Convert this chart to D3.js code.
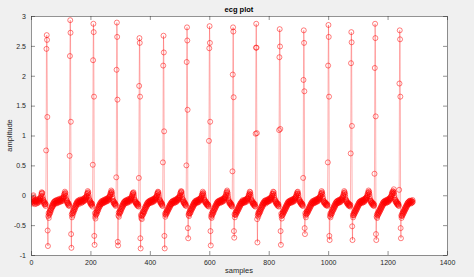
<!DOCTYPE html>
<html>
<head>
<meta charset="utf-8">
<script src="https://cdn.jsdelivr.net/npm/d3@7"></script>
<style>
  html, body { margin: 0; padding: 0; background: #f0f0f0; }
  svg { display: block; }
  text { font-family: "Liberation Sans", Arial, sans-serif; fill: #262626; }
</style>
</head>
<body>
<div id="chart"></div>
<script>
// ---- data ----
const chartTitle = "ecg plot";
const xLabel = "samples";
const yLabel = "amplitude";
const xTicks = [0, 200, 400, 600, 800, 1000, 1200, 1400];
const yTicks = [-1, -0.5, 0, 0.5, 1, 1.5, 2, 2.5, 3];

// QRS spikes: [rise, top3, peak, top2, fall, low1, low2]
const spikes = [
  [0.75, 2.45, 2.68, 2.60, 1.31, -0.59, -0.85],
  [0.66, 2.33, 2.93, 2.72, 1.23, -0.65, -0.88],
  [0.51, 2.26, 2.87, 2.73, 1.65, -0.68, -0.83],
  [0.30, 2.10, 2.89, 2.65, 1.60, -0.78, -0.84],
  [0.29, 1.83, 2.63, 2.55, 1.65, -0.72, -0.89],
  [0.55, 2.17, 2.67, 2.39, 1.07, -0.68, -0.89],
  [0.50, 2.23, 2.81, 2.59, 1.43, -0.55, -0.72],
  [0.91, 2.46, 2.83, 2.55, 1.23, -0.60, -0.84],
  [0.40, 2.02, 2.81, 2.74, 1.64, -0.60, -0.71],
  [1.03, 2.47, 2.87, 2.47, 1.04, -0.40, -0.79],
  [1.09, 2.31, 2.78, 2.49, 1.11, -0.60, -0.83],
  [0.29, 1.93, 2.76, 2.55, 1.74, -0.55, -0.65],
  [0.55, 2.17, 2.85, 2.65, 1.65, -0.68, -0.75],
  [0.70, 2.21, 2.73, 2.56, 1.16, -0.52, -0.75],
  [0.36, 2.13, 2.87, 2.63, 1.32, -0.65, -0.75],
  [0.09, 1.87, 2.76, 2.61, 1.65, -0.55, -0.72]
];

// baseline between spikes (segment k precedes spike k; last one follows the last spike)
const baseline = [
  [-0.12,-0.1,-0.14,-0.08,-0.11,-0.06,-0.02,0.0,-0.05,-0.1,
   -0.13,-0.09,-0.15,-0.11,-0.08,-0.12,-0.1,-0.14,-0.09,-0.07,
   -0.11,-0.13,-0.08,-0.1,-0.06,-0.12,-0.09,-0.07,-0.1,-0.05,
   -0.08,-0.04,-0.06,-0.01,0.02,0.05,0.03,0.04,-0.02,-0.06,
   -0.1,-0.08,-0.13,-0.11,-0.15,-0.12,-0.16,-0.14,-0.18,-0.15],
  [-0.35,-0.3,-0.38,-0.33,-0.28,-0.31,-0.26,-0.29,-0.24,-0.22,
   -0.25,-0.2,-0.18,-0.21,-0.16,-0.19,-0.14,-0.17,-0.12,-0.15,
   -0.11,-0.14,-0.1,-0.13,-0.09,-0.12,-0.1,-0.14,-0.08,-0.12,
   -0.09,-0.13,-0.1,-0.07,-0.11,-0.08,-0.12,-0.09,-0.06,-0.1,
   -0.08,-0.11,-0.07,-0.09,-0.05,-0.08,-0.1,-0.06,-0.09,-0.04,
   -0.07,-0.05,-0.02,0.01,-0.03,0.03,0.06,0.02,0.04,-0.01,
   -0.05,-0.08,-0.11,-0.09,-0.13,-0.12,-0.15,-0.13,-0.17,-0.14,
   -0.16,-0.18],
  [-0.32,-0.37,-0.3,-0.34,-0.27,-0.3,-0.25,-0.28,-0.22,-0.25,
   -0.2,-0.23,-0.17,-0.2,-0.15,-0.18,-0.13,-0.16,-0.11,-0.14,
   -0.12,-0.09,-0.13,-0.1,-0.15,-0.11,-0.08,-0.12,-0.1,-0.07,
   -0.11,-0.09,-0.13,-0.08,-0.1,-0.12,-0.07,-0.09,-0.11,-0.06,
   -0.08,-0.1,-0.05,-0.09,-0.07,-0.04,-0.08,-0.06,-0.03,-0.05,
   -0.01,0.02,-0.02,0.04,0.07,0.03,0.05,0.0,-0.04,-0.07,
   -0.1,-0.12,-0.09,-0.14,-0.12,-0.16,-0.13,-0.15,-0.17,-0.14,
   -0.19],
  [-0.3,-0.36,-0.39,-0.33,-0.29,-0.32,-0.27,-0.3,-0.24,-0.27,
   -0.22,-0.25,-0.19,-0.22,-0.17,-0.2,-0.15,-0.18,-0.13,-0.16,
   -0.12,-0.15,-0.1,-0.13,-0.11,-0.14,-0.09,-0.12,-0.1,-0.13,
   -0.08,-0.11,-0.09,-0.12,-0.07,-0.1,-0.08,-0.11,-0.06,-0.09,
   -0.07,-0.1,-0.05,-0.08,-0.06,-0.09,-0.04,-0.07,-0.03,-0.06,
   -0.02,0.0,0.03,0.01,0.05,0.08,0.04,0.06,0.02,-0.03,
   -0.06,-0.09,-0.12,-0.1,-0.14,-0.11,-0.15,-0.13,-0.16,-0.14,
   -0.18,-0.16],
  [-0.34,-0.29,-0.36,-0.31,-0.27,-0.3,-0.25,-0.28,-0.23,-0.26,
   -0.2,-0.23,-0.18,-0.21,-0.16,-0.19,-0.14,-0.17,-0.12,-0.15,
   -0.11,-0.13,-0.1,-0.14,-0.09,-0.12,-0.1,-0.08,-0.12,-0.09,
   -0.13,-0.1,-0.07,-0.11,-0.08,-0.1,-0.06,-0.09,-0.11,-0.07,
   -0.09,-0.05,-0.08,-0.06,-0.03,-0.05,-0.01,0.02,0.0,0.04,
   0.03,0.05,0.01,-0.03,-0.07,-0.1,-0.08,-0.12,-0.11,-0.14,
   -0.12,-0.15,-0.13,-0.17,-0.14,-0.16,-0.18,-0.15,-0.19],
  [-0.33,-0.38,-0.35,-0.4,-0.34,-0.3,-0.33,-0.28,-0.31,-0.26,
   -0.29,-0.24,-0.27,-0.21,-0.24,-0.19,-0.22,-0.17,-0.2,-0.15,
   -0.18,-0.13,-0.16,-0.12,-0.15,-0.11,-0.14,-0.1,-0.13,-0.11,
   -0.09,-0.12,-0.1,-0.13,-0.08,-0.11,-0.09,-0.12,-0.07,-0.1,
   -0.08,-0.11,-0.06,-0.09,-0.07,-0.1,-0.05,-0.08,-0.06,-0.04,
   -0.07,-0.03,-0.05,-0.01,0.02,-0.01,0.04,0.06,0.03,0.05,
   0.01,-0.03,-0.07,-0.1,-0.08,-0.12,-0.1,-0.14,-0.12,-0.15,
   -0.13,-0.17,-0.15,-0.18],
  [-0.31,-0.36,-0.33,-0.29,-0.32,-0.27,-0.3,-0.25,-0.28,-0.23,
   -0.26,-0.21,-0.24,-0.19,-0.22,-0.17,-0.2,-0.15,-0.18,-0.14,
   -0.16,-0.12,-0.15,-0.11,-0.14,-0.1,-0.13,-0.11,-0.09,-0.12,
   -0.1,-0.13,-0.08,-0.11,-0.09,-0.12,-0.07,-0.1,-0.08,-0.11,
   -0.06,-0.09,-0.07,-0.05,-0.08,-0.04,-0.07,-0.05,-0.02,-0.04,
   0.0,0.03,-0.01,0.05,0.07,0.04,0.06,0.01,-0.03,-0.06,
   -0.09,-0.11,-0.08,-0.13,-0.11,-0.14,-0.12,-0.16,-0.14,-0.17,
   -0.15,-0.18],
  [-0.33,-0.3,-0.35,-0.31,-0.27,-0.3,-0.25,-0.29,-0.23,-0.26,
   -0.21,-0.24,-0.19,-0.22,-0.17,-0.2,-0.15,-0.18,-0.13,-0.16,
   -0.12,-0.15,-0.1,-0.13,-0.11,-0.09,-0.12,-0.1,-0.13,-0.08,
   -0.11,-0.09,-0.12,-0.07,-0.1,-0.08,-0.11,-0.06,-0.09,-0.07,
   -0.05,-0.08,-0.04,-0.06,-0.02,0.01,-0.01,0.03,0.06,0.02,
   0.04,0.0,-0.04,-0.07,-0.1,-0.08,-0.12,-0.1,-0.13,-0.11,
   -0.15,-0.13,-0.16,-0.14,-0.17,-0.15,-0.18,-0.16,-0.19],
  [-0.36,-0.32,-0.38,-0.34,-0.29,-0.32,-0.27,-0.3,-0.25,-0.28,
   -0.22,-0.25,-0.2,-0.23,-0.18,-0.21,-0.16,-0.19,-0.14,-0.17,
   -0.12,-0.15,-0.11,-0.14,-0.1,-0.13,-0.11,-0.09,-0.12,-0.1,
   -0.13,-0.08,-0.11,-0.09,-0.12,-0.07,-0.1,-0.08,-0.11,-0.06,
   -0.09,-0.07,-0.1,-0.05,-0.08,-0.06,-0.03,-0.05,-0.02,-0.04,
   0.01,0.04,0.0,0.06,0.08,0.05,0.03,-0.01,-0.05,-0.08,
   -0.1,-0.13,-0.11,-0.14,-0.12,-0.15,-0.13,-0.17,-0.15,-0.18,
   -0.16,-0.19],
  [-0.32,-0.37,-0.33,-0.29,-0.33,-0.28,-0.31,-0.26,-0.29,-0.24,
   -0.27,-0.22,-0.25,-0.2,-0.23,-0.18,-0.21,-0.16,-0.19,-0.14,
   -0.17,-0.13,-0.15,-0.11,-0.14,-0.1,-0.13,-0.11,-0.08,-0.12,
   -0.1,-0.13,-0.09,-0.11,-0.08,-0.12,-0.09,-0.07,-0.1,-0.08,
   -0.11,-0.06,-0.09,-0.05,-0.07,-0.04,-0.06,-0.02,0.01,-0.01,
   0.03,0.06,0.02,0.05,0.01,-0.03,-0.07,-0.1,-0.08,-0.12,
   -0.1,-0.14,-0.12,-0.15,-0.13,-0.17,-0.14,-0.16,-0.18,-0.15,
   -0.19],
  [-0.34,-0.3,-0.36,-0.32,-0.28,-0.31,-0.26,-0.29,-0.24,-0.27,
   -0.21,-0.24,-0.19,-0.22,-0.17,-0.2,-0.15,-0.18,-0.13,-0.16,
   -0.12,-0.14,-0.1,-0.13,-0.09,-0.12,-0.1,-0.14,-0.08,-0.11,
   -0.09,-0.12,-0.1,-0.07,-0.11,-0.08,-0.1,-0.06,-0.09,-0.07,
   -0.1,-0.05,-0.08,-0.06,-0.04,-0.07,-0.03,-0.05,-0.01,0.02,
   -0.01,0.03,0.06,0.02,0.05,0.0,-0.04,-0.07,-0.1,-0.08,
   -0.12,-0.1,-0.14,-0.12,-0.15,-0.13,-0.17,-0.14,-0.16,-0.18,
   -0.15,-0.19],
  [-0.31,-0.35,-0.39,-0.34,-0.3,-0.33,-0.28,-0.31,-0.26,-0.29,
   -0.24,-0.27,-0.22,-0.25,-0.2,-0.23,-0.18,-0.21,-0.16,-0.19,
   -0.14,-0.17,-0.12,-0.15,-0.11,-0.14,-0.1,-0.13,-0.11,-0.09,
   -0.12,-0.1,-0.13,-0.08,-0.11,-0.09,-0.12,-0.07,-0.1,-0.08,
   -0.11,-0.06,-0.09,-0.07,-0.1,-0.05,-0.08,-0.06,-0.03,-0.05,
   -0.02,0.01,-0.01,0.03,0.05,0.02,0.06,0.03,0.0,-0.04,
   -0.07,-0.1,-0.08,-0.12,-0.1,-0.13,-0.11,-0.15,-0.13,-0.16,
   -0.14,-0.17,-0.15,-0.18],
  [-0.3,-0.34,-0.37,-0.32,-0.28,-0.31,-0.27,-0.3,-0.25,-0.28,
   -0.23,-0.26,-0.21,-0.24,-0.19,-0.22,-0.17,-0.2,-0.15,-0.18,
   -0.13,-0.16,-0.12,-0.14,-0.1,-0.13,-0.11,-0.14,-0.09,-0.12,
   -0.1,-0.13,-0.08,-0.11,-0.09,-0.12,-0.07,-0.1,-0.08,-0.11,
   -0.06,-0.09,-0.07,-0.1,-0.05,-0.08,-0.06,-0.04,-0.07,-0.03,
   -0.05,-0.01,0.02,-0.01,0.04,0.07,0.03,0.05,0.01,-0.03,
   -0.06,-0.09,-0.12,-0.1,-0.13,-0.11,-0.14,-0.12,-0.16,-0.13,
   -0.15,-0.17,-0.14,-0.16,-0.18,-0.16],
  [-0.35,-0.31,-0.37,-0.33,-0.29,-0.32,-0.27,-0.3,-0.24,-0.27,
   -0.22,-0.25,-0.2,-0.23,-0.18,-0.21,-0.16,-0.19,-0.14,-0.17,
   -0.12,-0.15,-0.11,-0.14,-0.1,-0.13,-0.09,-0.12,-0.1,-0.13,
   -0.08,-0.11,-0.09,-0.12,-0.07,-0.1,-0.08,-0.11,-0.06,-0.09,
   -0.07,-0.04,-0.08,-0.05,-0.02,0.01,-0.01,0.04,0.07,0.03,
   0.05,0.01,-0.03,-0.07,-0.1,-0.08,-0.12,-0.1,-0.14,-0.12,
   -0.15,-0.13,-0.17,-0.14,-0.16,-0.18,-0.15,-0.17,-0.19,-0.16],
  [-0.33,-0.37,-0.34,-0.3,-0.33,-0.28,-0.31,-0.26,-0.29,-0.24,
   -0.27,-0.22,-0.25,-0.2,-0.23,-0.18,-0.21,-0.16,-0.19,-0.14,
   -0.17,-0.12,-0.15,-0.11,-0.14,-0.1,-0.13,-0.11,-0.09,-0.12,
   -0.1,-0.13,-0.08,-0.11,-0.09,-0.12,-0.07,-0.1,-0.08,-0.11,
   -0.06,-0.09,-0.07,-0.05,-0.08,-0.04,-0.06,-0.02,-0.04,0.0,
   0.03,0.0,0.05,0.08,0.04,0.06,0.02,-0.02,-0.06,-0.09,
   -0.11,-0.09,-0.13,-0.11,-0.14,-0.12,-0.16,-0.13,-0.15,-0.17,
   -0.14,-0.18,-0.16],
  [-0.36,-0.32,-0.38,-0.34,-0.3,-0.33,-0.28,-0.31,-0.26,-0.29,
   -0.24,-0.27,-0.22,-0.25,-0.2,-0.23,-0.18,-0.21,-0.16,-0.19,
   -0.14,-0.17,-0.12,-0.15,-0.11,-0.14,-0.1,-0.13,-0.11,-0.09,
   -0.12,-0.1,-0.13,-0.08,-0.11,-0.09,-0.12,-0.07,-0.1,-0.08,
   -0.11,-0.06,-0.09,-0.07,-0.05,-0.08,-0.04,-0.06,-0.02,-0.05,
   -0.01,0.02,0.05,0.01,0.04,0.07,0.03,0.06,0.1,0.04,
   0.0,-0.04,-0.07,-0.1,-0.08,-0.12,-0.1,-0.13,-0.11,-0.15,
   -0.13,-0.16,-0.14,-0.17,-0.15,-0.18],
  [-0.34,-0.38,-0.35,-0.31,-0.34,-0.29,-0.32,-0.27,-0.3,-0.25,
   -0.28,-0.23,-0.26,-0.21,-0.24,-0.19,-0.22,-0.17,-0.2,-0.15,
   -0.18,-0.13,-0.16,-0.12,-0.15,-0.11,-0.14,-0.1,-0.13,-0.09,
   -0.12,-0.1,-0.14,-0.11,-0.09,-0.13,-0.1,-0.12,-0.08,-0.11]
];

// assemble the recorded series: baseline, spike, baseline, spike, ...
const amplitude = [];
baseline.forEach((seg, k) => {
  amplitude.push(...seg);
  if (k < spikes.length) amplitude.push(...spikes[k]);
});
const samples = amplitude.map((v, i) => ({ x: i + 1, y: v }));

// ---- layout ----
const W = 474, H = 277;
const margin = { left: 31, right: 27, top: 16, bottom: 22 };
const iw = W - margin.left - margin.right;
const ih = H - margin.top - margin.bottom;

const svg = d3.select("#chart").append("svg")
  .attr("width", W).attr("height", H);

svg.append("rect").attr("width", W).attr("height", H).attr("fill", "#f0f0f0");

const g = svg.append("g").attr("transform", `translate(${margin.left},${margin.top})`);

g.append("rect").attr("width", iw).attr("height", ih).attr("fill", "#ffffff");

const x = d3.scaleLinear().domain([0, 1400]).range([0, iw]);
const y = d3.scaleLinear().domain([-1, 3]).range([ih, 0]);

svg.append("clipPath").attr("id", "clip")
  .append("rect").attr("width", iw).attr("height", ih);

const plot = g.append("g").attr("clip-path", "url(#clip)");

const line = d3.line().x(d => x(d.x)).y(d => y(d.y));
plot.append("path").datum(samples)
  .attr("d", line)
  .attr("fill", "none")
  .attr("stroke", "#ff0000")
  .attr("stroke-width", 0.6)
  .attr("stroke-opacity", 0.5);

plot.selectAll("circle").data(samples).join("circle")
  .attr("cx", d => x(d.x))
  .attr("cy", d => y(d.y))
  .attr("r", 2.5)
  .attr("fill", "none")
  .attr("stroke", "#ff0000")
  .attr("stroke-width", 0.6)
  .attr("stroke-opacity", 0.85);

// ---- axes ----
const axisColor = "#262626";
const tickLen = 4;
const fmt = d => String(d);

function styleAxis(sel) {
  sel.select(".domain").attr("stroke", axisColor).attr("stroke-width", 0.5);
  sel.selectAll(".tick line").attr("stroke", axisColor).attr("stroke-width", 0.5);
  sel.selectAll(".tick text").attr("fill", "#262626").style("fill", "#262626")
    .style("font-size", "7px")
    .style("font-family", "Liberation Sans, Arial, sans-serif");
}

const xb = g.append("g").attr("transform", `translate(0,${ih})`)
  .call(d3.axisBottom(x).tickValues(xTicks).tickFormat(fmt).tickSizeInner(-tickLen).tickSizeOuter(0).tickPadding(5));
styleAxis(xb);

const xt = g.append("g")
  .call(d3.axisTop(x).tickValues(xTicks).tickFormat("").tickSizeInner(-tickLen).tickSizeOuter(0));
styleAxis(xt);

const yl = g.append("g")
  .call(d3.axisLeft(y).tickValues(yTicks).tickFormat(fmt).tickSizeInner(-tickLen).tickSizeOuter(0).tickPadding(5));
styleAxis(yl);

const yr = g.append("g").attr("transform", `translate(${iw},0)`)
  .call(d3.axisRight(y).tickValues(yTicks).tickFormat("").tickSizeInner(-tickLen).tickSizeOuter(0));
styleAxis(yr);

// ---- labels ----
svg.append("text")
  .attr("x", margin.left + iw / 2).attr("y", 12)
  .attr("text-anchor", "middle")
  .style("font-size", "7.5px").style("font-weight", "bold")
  .style("fill", "#000")
  .text(chartTitle);

svg.append("text")
  .attr("x", margin.left + iw / 2).attr("y", 273)
  .attr("text-anchor", "middle")
  .style("font-size", "7.5px")
  .style("fill", "#262626")
  .text(xLabel);

svg.append("text")
  .attr("transform", `translate(12,${margin.top + ih / 2}) rotate(-90)`)
  .attr("text-anchor", "middle")
  .style("font-size", "7.5px")
  .style("fill", "#262626")
  .text(yLabel);
</script>
</body>
</html>
